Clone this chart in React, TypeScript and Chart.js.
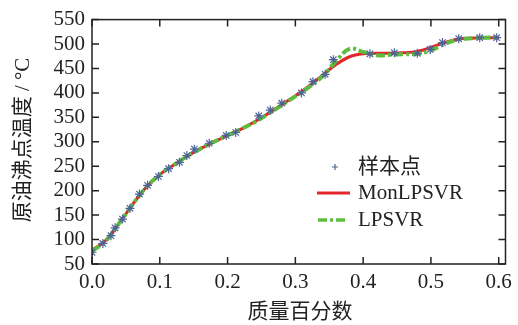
import React, { useEffect, useRef } from "react";
import { Chart, registerables } from "chart.js";

Chart.register(...registerables);

// Sample points (样本点)
const sampleX = [0, 0.016, 0.028, 0.034, 0.045, 0.056, 0.070, 0.082, 0.098, 0.113, 0.129, 0.140, 0.151, 0.173, 0.198, 0.212, 0.246, 0.263, 0.280, 0.309, 0.326, 0.344, 0.356, 0.410, 0.446, 0.480, 0.499, 0.517, 0.541, 0.572, 0.597];
const sampleY = [74, 92, 108, 124, 142, 164, 193, 211, 229, 245, 258, 272, 285, 297, 313, 319, 353, 365, 379, 400, 423, 438, 468, 480, 482, 481, 489, 503, 511, 513, 513];

// Fitted curves
const curveX = [0, 0.02, 0.04, 0.06, 0.08, 0.10, 0.12, 0.14, 0.16, 0.18, 0.20, 0.22, 0.24, 0.26, 0.28, 0.30, 0.32, 0.34, 0.36, 0.38, 0.40, 0.42, 0.44, 0.46, 0.48, 0.50, 0.52, 0.54, 0.56, 0.58, 0.60];
const monY = [78, 98, 133, 172, 207, 233, 252, 270, 286, 300, 313, 326, 341, 358, 376, 394, 414, 436, 458, 474, 480, 481, 481, 482, 485, 493, 503, 510, 512, 513, 513];
const lpY = [76, 97, 133, 172, 207, 233, 252, 270, 286, 300, 313, 326, 340, 357, 375, 393, 412, 434, 465, 490, 484, 477, 478, 479, 480, 487, 500, 509, 512, 513, 514];

const xTicks = [0, 0.1, 0.2, 0.3, 0.4, 0.5, 0.6];
const yTicks = [50, 100, 150, 200, 250, 300, 350, 400, 450, 500, 550];

const legendLabels = ["样本点", "MonLPSVR", "LPSVR"];
const xTitle = "质量百分数";
const yTitle = "原油沸点温度 / °C";

const RED = "#e3262b";
const GREEN = "#5cbd3e";
const STAR = "#4f6496";
const FONT = "'Liberation Serif', 'Times New Roman', Tinos, 'Noto Sans CJK SC', serif";

const decorPlugin = {
  id: "decor",
  afterDraw(chart: any) {
    const ctx = chart.ctx;
    const a = chart.chartArea;
    const xs = chart.scales.x;
    const ys = chart.scales.y;
    ctx.save();
    ctx.strokeStyle = "#222";
    ctx.lineWidth = 1.5;
    ctx.strokeRect(a.left, a.top, a.right - a.left, a.bottom - a.top);
    ctx.lineWidth = 1.5;
    ctx.beginPath();
    const tl = 7;
    for (const v of xTicks) {
      const px = xs.getPixelForValue(v);
      ctx.moveTo(px, a.bottom);
      ctx.lineTo(px, a.bottom - tl);
      ctx.moveTo(px, a.top);
      ctx.lineTo(px, a.top + tl);
    }
    for (const v of yTicks) {
      const py = ys.getPixelForValue(v);
      ctx.moveTo(a.left, py);
      ctx.lineTo(a.left + tl, py);
      ctx.moveTo(a.right, py);
      ctx.lineTo(a.right - tl, py);
    }
    ctx.stroke();

    // axis titles
    ctx.fillStyle = "#222";
    ctx.font = `21px ${FONT}`;
    ctx.textAlign = "center";
    ctx.textBaseline = "middle";
    ctx.fillText(xTitle, 300, 312);
    ctx.save();
    ctx.translate(23, 140);
    ctx.rotate(-Math.PI / 2);
    ctx.fillText(yTitle, 0, 0);
    ctx.restore();

    // legend
    const rows = [167, 193, 220];
    const tx = 358;
    ctx.font = `21px ${FONT}`;
    ctx.textAlign = "left";
    ctx.textBaseline = "middle";
    legendLabels.forEach((t, i) => ctx.fillText(t, tx, rows[i]));
    ctx.strokeStyle = STAR;
    ctx.lineWidth = 1.2;
    ctx.beginPath();
    ctx.moveTo(332, rows[0]);
    ctx.lineTo(338, rows[0]);
    ctx.moveTo(335, rows[0] - 3);
    ctx.lineTo(335, rows[0] + 3);
    ctx.stroke();
    ctx.strokeStyle = RED;
    ctx.lineWidth = 3;
    ctx.beginPath();
    ctx.moveTo(317, rows[1]);
    ctx.lineTo(350, rows[1]);
    ctx.stroke();
    ctx.strokeStyle = GREEN;
    ctx.lineWidth = 3.5;
    ctx.setLineDash([9, 3, 3, 3]);
    ctx.beginPath();
    ctx.moveTo(318, rows[2]);
    ctx.lineTo(348, rows[2]);
    ctx.stroke();
    ctx.restore();
  },
};

export default function App() {
  const ref = useRef<HTMLCanvasElement>(null);
  useEffect(() => {
    document.body.style.margin = "0";
    const canvas = ref.current!;
    const chart = new Chart(canvas, {
      type: "scatter",
      data: {
        datasets: [
          {
            label: legendLabels[0],
            data: sampleX.map((x, i) => ({ x, y: sampleY[i] })),
            pointStyle: "star",
            radius: 4.5,
            borderColor: STAR,
            backgroundColor: STAR,
            borderWidth: 1.2,
            showLine: false,
            order: 0,
          } as any,
          {
            type: "line",
            label: legendLabels[2],
            data: curveX.map((x, i) => ({ x, y: lpY[i] })),
            borderColor: GREEN,
            borderWidth: 4,
            borderDash: [9, 3, 3, 3],
            pointRadius: 0,
            tension: 0.4,
            fill: false,
            order: 1,
          } as any,
          {
            type: "line",
            label: legendLabels[1],
            data: curveX.map((x, i) => ({ x, y: monY[i] })),
            borderColor: RED,
            borderWidth: 3,
            pointRadius: 0,
            cubicInterpolationMode: "monotone",
            fill: false,
            order: 2,
          } as any,
        ],
      },
      options: {
        animation: false,
        responsive: false,
        layout: { padding: { left: 0, top: 15, right: 10, bottom: 0 } },
        plugins: { legend: { display: false }, tooltip: { enabled: false } },
        scales: {
          x: {
            type: "linear",
            min: 0,
            max: 0.61,
            grid: { display: false, drawTicks: false },
            border: { display: false },
            afterBuildTicks: (s: any) => {
              s.ticks = xTicks.map((v) => ({ value: v }));
            },
            afterFit: (s: any) => {
              s.height = 61;
            },
            ticks: {
              autoSkip: false,
              maxRotation: 0,
              padding: 6,
              color: "#222",
              font: { family: FONT, size: 21 },
              callback: (v: any) => Number(v).toFixed(1),
            },
          },
          y: {
            type: "linear",
            min: 50,
            max: 550,
            grid: { display: false, drawTicks: false },
            border: { display: false },
            afterBuildTicks: (s: any) => {
              s.ticks = yTicks.map((v) => ({ value: v }));
            },
            afterFit: (s: any) => {
              s.width = 92;
            },
            ticks: {
              autoSkip: false,
              padding: 7,
              color: "#222",
              font: { family: FONT, size: 21 },
            },
          },
        },
      },
      plugins: [decorPlugin],
    });
    const fonts: any = (document as any).fonts;
    if (fonts && fonts.load) {
      Promise.all([
        fonts.load(`21px 'Liberation Serif'`),
        fonts.load(`21px 'Noto Sans CJK SC'`, "样本点"),
      ])
        .then(() => chart.update())
        .catch(() => {});
    }
    return () => chart.destroy();
  }, []);
  return <canvas ref={ref} width={518} height={325} style={{ display: "block" }} />;
}
